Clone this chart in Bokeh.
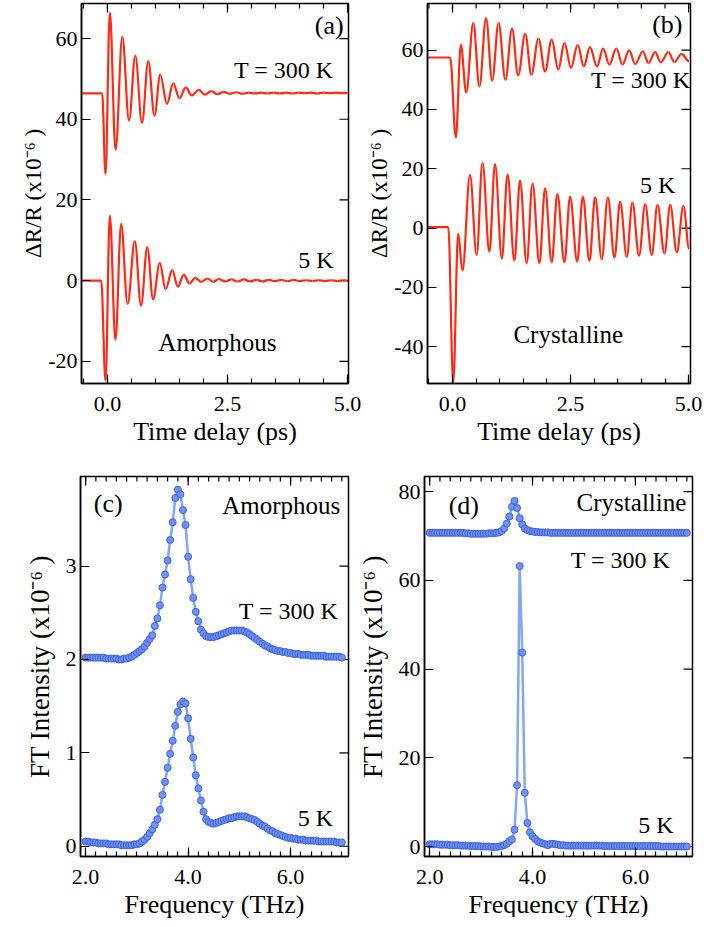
import math
from bokeh.plotting import figure
from bokeh.models import LinearAxis, FixedTicker, Label, Range1d, PrintfTickFormatter
from bokeh.layouts import column, row
from bokeh.embed import file_html
from bokeh.resources import INLINE

FONT = "Liberation Serif"
RED = "#ff2a14"
LINE_BLUE = "#86a4f6"
DOT_FILL = "#7092f2"
DOT_EDGE = "#3d62e2"

# ---------------- data: transients (extrema) ----------------
# (a) amorphous, T = 300 K  (time in ps, dR/R in 1e-6)
A300_T = [-0.54, -0.11, -0.04, 0.05, 0.17, 0.31, 0.45, 0.58, 0.72, 0.85,
          0.98, 1.10, 1.24, 1.37, 1.50, 1.63, 1.76, 1.90, 2.03, 2.16,
          2.29, 2.42, 2.55, 2.68, 2.81, 2.94, 3.07, 3.20, 3.33, 3.46,
          3.59, 3.72, 3.85, 3.98, 4.11, 4.24, 4.37, 4.50, 4.63, 4.76,
          4.89, 5.00]
A300_V = [46.4, 46.4, 26.4, 66.5, 32.4, 60.5, 39.7, 55.8, 39.1, 54.4,
          40.9, 51.1, 43.8, 48.9, 45.2, 47.9, 45.9, 47.3, 46.1, 47.0,
          46.2, 46.8, 46.3, 46.7, 46.3, 46.6, 46.4, 46.6, 46.4, 46.6,
          46.4, 46.6, 46.4, 46.6, 46.5, 46.6, 46.4, 46.6, 46.5, 46.6,
          46.5, 46.5]
# (a) amorphous, 5 K
A5_T = [-0.54, -0.13, -0.04, 0.05, 0.167, 0.285, 0.42, 0.57, 0.70, 0.83,
        0.95, 1.09, 1.21, 1.35, 1.465, 1.59, 1.71, 1.83, 1.95, 2.08,
        2.21, 2.32, 2.45, 2.58, 2.71, 2.84, 2.97, 3.10, 3.23, 3.36,
        3.49, 3.62, 3.75, 3.88, 4.01, 4.14, 4.27, 4.40, 4.53, 4.66,
        4.79, 4.92, 5.00]
A5_V = [0.0, 0.0, -24.8, 16.1, -14.7, 14.1, -5.8, 9.8, -6.2, 8.3,
        -4.6, 4.4, -2.1, 2.6, -1.5, 1.5, -0.7, 0.7, -0.3, 0.5,
        -0.3, 0.4, -0.2, 0.3, -0.2, 0.3, -0.2, 0.2, -0.2, 0.2,
        -0.1, 0.2, -0.1, 0.2, -0.1, 0.1, -0.1, 0.1, -0.1, 0.1,
        -0.1, 0.1, 0.0]
# (b) crystalline, T = 300 K
B300_T = [-0.53, -0.05, 0.07, 0.176, 0.29, 0.44, 0.57, 0.71, 0.84, 0.975,
          1.12, 1.26, 1.39, 1.54, 1.67, 1.82, 1.96, 2.10, 2.24, 2.37,
          2.51, 2.65, 2.78, 2.91, 3.06, 3.19, 3.32, 3.47, 3.60, 3.74,
          3.87, 4.03, 4.15, 4.29, 4.41, 4.57, 4.70, 4.85, 5.01]
B300_V = [57.5, 57.5, 30.5, 61.8, 45.7, 69.2, 47.7, 70.8, 49.7, 69.2,
          50.0, 67.2, 51.5, 65.5, 51.7, 63.9, 52.8, 63.5, 53.4, 62.4,
          54.0, 61.8, 54.5, 61.0, 54.5, 60.5, 55.1, 60.5, 55.1, 59.9,
          55.3, 59.6, 55.6, 59.3, 55.9, 59.3, 56.0, 58.7, 56.2]
# (b) crystalline, 5 K
B5_T = [-0.53, -0.09, 0.015, 0.12, 0.21, 0.37, 0.51, 0.635, 0.78, 0.90,
        1.045, 1.165, 1.31, 1.43, 1.57, 1.695, 1.84, 1.96, 2.10, 2.22,
        2.37, 2.49, 2.64, 2.76, 2.90, 3.02, 3.16, 3.29, 3.43, 3.55,
        3.69, 3.81, 3.95, 4.08, 4.22, 4.34, 4.49, 4.61, 4.75, 4.89,
        5.01]
B5_V = [0.3, 0.3, -52.0, -1.9, -14.3, 17.9, -9.1, 22.1, -8.0, 21.6,
        -10.3, 18.1, -11.0, 16.0, -11.9, 15.1, -11.9, 13.4, -11.6, 11.5,
        -11.6, 10.6, -11.3, 10.6, -11.1, 10.4, -10.5, 10.3, -10.0, 8.9,
        -9.7, 8.6, -9.3, 8.0, -9.1, 7.8, -8.6, 7.8, -8.2, 7.5,
        -6.9]

# ---------------- data: Fourier spectra ----------------
FREQ = [2.00, 2.05, 2.10, 2.15, 2.20, 2.25, 2.30, 2.35, 2.40, 2.45,
        2.50, 2.55, 2.60, 2.65, 2.70, 2.75, 2.80, 2.85, 2.90, 2.95,
        3.00, 3.05, 3.10, 3.15, 3.20, 3.25, 3.30, 3.35, 3.40, 3.45,
        3.50, 3.55, 3.60, 3.65, 3.70, 3.75, 3.80, 3.85, 3.90, 3.95,
        4.00, 4.05, 4.10, 4.15, 4.20, 4.25, 4.30, 4.35, 4.40, 4.45,
        4.50, 4.55, 4.60, 4.65, 4.70, 4.75, 4.80, 4.85, 4.90, 4.95,
        5.00, 5.05, 5.10, 5.15, 5.20, 5.25, 5.30, 5.35, 5.40, 5.45,
        5.50, 5.55, 5.60, 5.65, 5.70, 5.75, 5.80, 5.85, 5.90, 5.95,
        6.00, 6.05, 6.10, 6.15, 6.20, 6.25, 6.30, 6.35, 6.40, 6.45,
        6.50, 6.55, 6.60, 6.65, 6.70, 6.75, 6.80, 6.85, 6.90, 6.95,
        7.00]
C300 = [2.02, 2.02, 2.02, 2.02, 2.02, 2.02, 2.02, 2.02, 2.01, 2.01,
        2.01, 2.01, 2.01, 2.00, 2.00, 2.01, 2.01, 2.02, 2.03, 2.05,
        2.07, 2.09, 2.11, 2.14, 2.18, 2.22, 2.26, 2.36, 2.44, 2.58,
        2.77, 2.91, 3.06, 3.28, 3.47, 3.73, 3.82, 3.77, 3.60, 3.44,
        3.10, 2.86, 2.66, 2.51, 2.41, 2.32, 2.28, 2.25, 2.24, 2.24,
        2.24, 2.25, 2.26, 2.27, 2.28, 2.29, 2.30, 2.31, 2.31, 2.31,
        2.31, 2.31, 2.30, 2.29, 2.27, 2.25, 2.23, 2.21, 2.19, 2.17,
        2.15, 2.14, 2.12, 2.11, 2.10, 2.09, 2.09, 2.08, 2.08, 2.07,
        2.07, 2.06, 2.06, 2.06, 2.05, 2.05, 2.05, 2.05, 2.04, 2.04,
        2.04, 2.04, 2.04, 2.04, 2.03, 2.03, 2.03, 2.03, 2.03, 2.03,
        2.02]
C5 = [0.05, 0.05, 0.04, 0.04, 0.04, 0.03, 0.03, 0.03, 0.03, 0.02,
      0.02, 0.02, 0.02, 0.02, 0.01, 0.01, 0.01, 0.01, 0.01, 0.02,
      0.02, 0.03, 0.05, 0.07, 0.10, 0.14, 0.18, 0.23, 0.29, 0.39,
      0.55, 0.69, 0.84, 0.99, 1.13, 1.29, 1.44, 1.52, 1.55, 1.53,
      1.37, 1.15, 0.95, 0.76, 0.62, 0.49, 0.37, 0.29, 0.26, 0.25,
      0.24, 0.25, 0.26, 0.27, 0.28, 0.29, 0.30, 0.30, 0.31, 0.32,
      0.32, 0.32, 0.32, 0.31, 0.30, 0.29, 0.28, 0.26, 0.24, 0.22,
      0.21, 0.19, 0.17, 0.16, 0.14, 0.13, 0.12, 0.11, 0.10, 0.09,
      0.09, 0.08, 0.08, 0.07, 0.07, 0.07, 0.06, 0.06, 0.06, 0.06,
      0.06, 0.05, 0.05, 0.05, 0.05, 0.05, 0.05, 0.05, 0.04, 0.04,
      0.04]
D300 = [70.7, 70.7, 70.7, 70.7, 70.7, 70.7, 70.7, 70.7, 70.7, 70.7,
        70.7, 70.7, 70.7, 70.7, 70.6, 70.6, 70.5, 70.5, 70.5, 70.5,
        70.5, 70.5, 70.5, 70.6, 70.6, 70.6, 70.7, 70.8, 71.1, 71.7,
        72.8, 74.4, 76.6, 77.9, 76.3, 74.0, 72.6, 71.7, 71.3, 71.1,
        71.0, 70.9, 70.9, 70.8, 70.8, 70.8, 70.8, 70.7, 70.7, 70.7,
        70.7, 70.7, 70.7, 70.7, 70.7, 70.7, 70.7, 70.7, 70.7, 70.7,
        70.7, 70.7, 70.7, 70.7, 70.7, 70.7, 70.7, 70.7, 70.7, 70.7,
        70.7, 70.7, 70.7, 70.7, 70.7, 70.7, 70.7, 70.7, 70.7, 70.7,
        70.7, 70.7, 70.7, 70.7, 70.7, 70.7, 70.7, 70.7, 70.7, 70.7,
        70.7, 70.7, 70.7, 70.7, 70.7, 70.7, 70.7, 70.7, 70.7, 70.7,
        70.7]
D5 = [0.5, 0.5, 0.5, 0.5, 0.4, 0.4, 0.4, 0.4, 0.3, 0.3,
      0.3, 0.3, 0.2, 0.2, 0.2, 0.2, 0.1, 0.1, 0.1, 0.1,
      0.0, 0.0, 0.0, 0.0, -0.1, -0.1, -0.1, 0.0, 0.1, 0.3,
      0.6, 1.2, 1.6, 3.8, 13.8, 63.2, 43.7, 12.1, 5.3, 3.2,
      2.3, 1.7, 1.2, 0.9, 0.7, 0.5, 0.3, 0.6, 0.6, 0.5,
      0.4, 0.3, 0.3, 0.2, 0.2, 0.2, 0.2, 0.2, 0.2, 0.2,
      0.2, 0.2, 0.2, 0.2, 0.2, 0.2, 0.2, 0.2, 0.1, 0.1,
      0.1, 0.1, 0.1, 0.1, 0.1, 0.1, 0.1, 0.1, 0.1, 0.1,
      0.1, 0.1, 0.1, 0.1, 0.1, 0.1, 0.1, 0.1, 0.1, 0.1,
      0.0, 0.0, 0.0, 0.0, 0.0, 0.0, 0.0, 0.0, 0.0, 0.0,
      0.0]

# tick positions
T_MAJOR = [0.0, 2.5, 5.0]
T_MINOR = [-0.5, 0.0, 0.5, 1.0, 1.5, 2.0, 2.5, 3.0, 3.5, 4.0, 4.5, 5.0]
F_MAJOR = [2.0, 4.0, 6.0]
F_MINOR = [2.0, 2.2, 2.4, 2.6, 2.8, 3.0, 3.2, 3.4, 3.6, 3.8, 4.0, 4.2, 4.4,
           4.6, 4.8, 5.0, 5.2, 5.4, 5.6, 5.8, 6.0, 6.2, 6.4, 6.6, 6.8, 7.0]
YA_TICKS = [-20, 0, 20, 40, 60]
YB_TICKS = [-40, -20, 0, 20, 40, 60]
YC_TICKS = [0, 1, 2, 3]
YD_TICKS = [0, 20, 40, 60, 80]

Y_TITLE_TOP = "ΔR/R (x10⁻⁶ )"
Y_TITLE_BOT = "FT Intensity (x10⁻⁶ )"
X_TITLE_TOP = "Time delay (ps)"
X_TITLE_BOT = "Frequency (THz)"


def make_panel(xr, yr, fw, fh, L, R, T, B, xmaj, xmin, ymaj, xtitle, ytitle,
               ylab_standoff, ylab_size):
    p = figure(frame_width=fw, frame_height=fh, x_range=Range1d(*xr),
               y_range=Range1d(*yr), output_backend="svg",
               toolbar_location=None, x_axis_type=None, y_axis_type=None,
               min_border_left=L, min_border_right=R, min_border_top=T,
               min_border_bottom=B)
    p.xgrid.visible = False
    p.ygrid.visible = False
    p.outline_line_color = "black"
    p.outline_line_width = 1.5
    p.background_fill_color = "white"
    p.border_fill_color = "white"
    xt = FixedTicker(ticks=xmaj, minor_ticks=xmin)
    yt = FixedTicker(ticks=ymaj, minor_ticks=[])
    for loc, tk, fmt, title, st, sz in [("below", xt, "%.1f", xtitle, 3, "26px"),
                                        ("left", yt, "%d", ytitle, ylab_standoff, ylab_size)]:
        ax = LinearAxis(ticker=tk, formatter=PrintfTickFormatter(format=fmt))
        ax.major_tick_in = 9
        ax.major_tick_out = 0
        ax.minor_tick_in = 5
        ax.minor_tick_out = 0
        ax.axis_line_color = "black"
        ax.axis_line_width = 1.5
        ax.major_tick_line_width = 1.2
        ax.minor_tick_line_width = 1.2
        ax.major_label_text_font = FONT
        ax.major_label_text_font_size = "22px"
        ax.major_label_text_color = "black"
        ax.major_label_standoff = 13 if loc == "below" else 4
        ax.axis_label = title
        ax.axis_label_text_font = FONT
        ax.axis_label_text_font_size = sz
        ax.axis_label_text_font_style = "normal"
        ax.axis_label_text_color = "black"
        ax.axis_label_standoff = st
        p.add_layout(ax, loc)
    # mirrored ticks on the top and right edges, drawn from the same tick lists
    ytop, xright = yr[1], xr[1]
    p.ray(x=xmaj, y=[ytop] * len(xmaj), length=9, angle=-math.pi / 2,
          length_units="screen", line_color="black", line_width=1.2)
    p.ray(x=xmin, y=[ytop] * len(xmin), length=5, angle=-math.pi / 2,
          length_units="screen", line_color="black", line_width=1.2)
    p.ray(x=[xright] * len(ymaj), y=ymaj, length=9, angle=math.pi,
          length_units="screen", line_color="black", line_width=1.2)
    return p


def add_text(p, x, y, text, align="left", size="24px"):
    p.add_layout(Label(x=x, y=y, text=text, text_font=FONT, text_font_size=size,
                       text_align=align, text_baseline="alphabetic",
                       text_color="black"))


def smooth(p, t, v):
    x0, y0, x1, y1 = t[:-1], v[:-1], t[1:], v[1:]
    k = 0.3634
    cx0 = [a + k * (b - a) for a, b in zip(x0, x1)]
    cx1 = [b - k * (b - a) for a, b in zip(x0, x1)]
    p.bezier(x0=x0, y0=y0, x1=x1, y1=y1, cx0=cx0, cy0=y0, cx1=cx1, cy1=y1,
             line_color=RED, line_width=2.2)


def spectrum(p, f, v):
    p.line(f, v, line_color=LINE_BLUE, line_width=2.5)
    p.scatter(f, v, size=7, fill_color=DOT_FILL, line_color=DOT_EDGE, line_width=1)


# ---------------- panels ----------------
pa = make_panel((-0.54, 5.02), (-25.5, 68.7), 267, 380, 81, 14, 3, 87,
                T_MAJOR, T_MINOR, YA_TICKS, X_TITLE_TOP, Y_TITLE_TOP, -1, "23px")
smooth(pa, A300_T, A300_V)
smooth(pa, A5_T, A5_V)
add_text(pa, 4.92, 63.2, "(a)", "right", "26px")
add_text(pa, 4.71, 52.3, "T = 300 K", "right")
add_text(pa, 4.71, 5.0, "5 K", "right")
add_text(pa, 1.06, -15.4, "Amorphous", "left", "25px")

pb = make_panel((-0.53, 5.04), (-52.4, 75.7), 263, 380, 65, 14, 3, 87,
                T_MAJOR, T_MINOR, YB_TICKS, X_TITLE_TOP, Y_TITLE_TOP, -1, "23px")
smooth(pb, B300_T, B300_V)
smooth(pb, B5_T, B5_V)
add_text(pb, 4.87, 68.6, "(b)", "right", "26px")
add_text(pb, 5.04, 50.0, "T = 300 K", "right")
add_text(pb, 4.72, 14.5, "5 K", "right")
add_text(pb, 1.29, -35.8, "Crystalline", "left", "25px")

pc = make_panel((1.90, 7.13), (-0.11, 3.96), 268, 380, 80, 6, 6, 40,
                F_MAJOR, F_MINOR, YC_TICKS, X_TITLE_BOT, Y_TITLE_BOT, 8, "27px")
spectrum(pc, FREQ, C300)
spectrum(pc, FREQ, C5)
add_text(pc, 2.16, 3.67, "(c)", "left", "26px")
add_text(pc, 6.97, 3.65, "Amorphous", "right", "25px")
add_text(pc, 6.93, 2.52, "T = 300 K", "right")
add_text(pc, 6.83, 0.30, "5 K", "right")

pd = make_panel((1.90, 7.11), (-2.25, 83.4), 268, 380, 69, 6, 2, 40,
                F_MAJOR, F_MINOR, YD_TICKS, X_TITLE_BOT, Y_TITLE_BOT, 8, "27px")
spectrum(pd, FREQ, D300)
spectrum(pd, FREQ, D5)
add_text(pd, 2.37, 76.8, "(d)", "left", "26px")
add_text(pd, 6.99, 77.5, "Crystalline", "right", "25px")
add_text(pd, 6.68, 64.5, "T = 300 K", "right")
add_text(pd, 6.74, 4.9, "5 K", "right")

layout = column(row(pa, pb), row(pc, pd))
open("out.html", "w").write(file_html(layout, INLINE))
